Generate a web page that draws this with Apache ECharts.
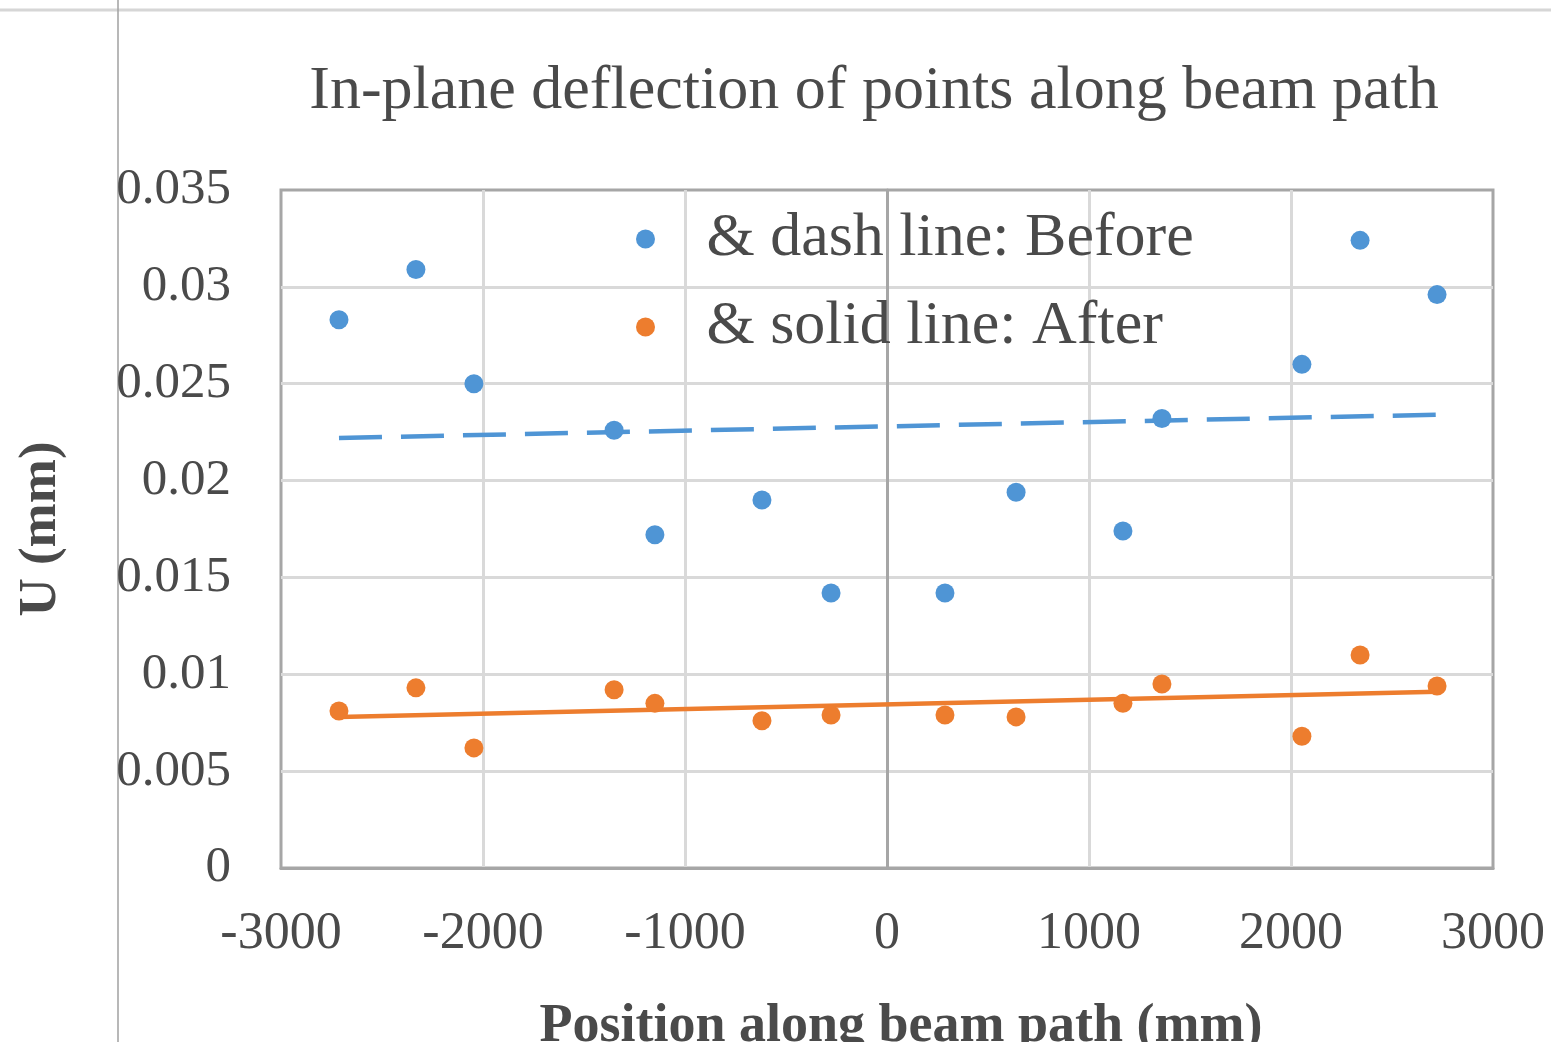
<!DOCTYPE html>
<html>
<head>
<meta charset="utf-8">
<title>In-plane deflection of points along beam path</title>
<script src="https://cdn.jsdelivr.net/npm/echarts@6/dist/echarts.min.js"></script>
<style>
  html, body { margin: 0; padding: 0; background: #fff; }
  #chart { width: 1551px; height: 1042px; }
</style>
</head>
<body>
<div id="chart"></div>
<script>
// positions along the beam (mm), shared by both measurement sets
const positions = [-2713, -2332, -2045, -1351, -1149, -619, -277, 287, 639, 1168, 1361, 2054, 2342, 2723]
const beforeU = [0.0283, 0.0309, 0.0250, 0.0226, 0.0172, 0.0190, 0.0142, 0.0142, 0.0194, 0.0174, 0.0232, 0.0260, 0.0324, 0.0296]
const afterU = [0.0081, 0.0093, 0.0062, 0.0092, 0.0085, 0.0076, 0.0079, 0.0079, 0.0078, 0.0085, 0.0095, 0.0068, 0.0110, 0.0094]

// trend line ends
const trendX = [-2713, 2723]
const beforeTrend = [0.0222, 0.0234]
const afterTrend = [0.0078, 0.0091]

const xTicks = { min: -3000, max: 3000, step: 1000 }
const yTicks = { min: 0, max: 0.035, step: 0.005 }

const BLUE = '#4f95d5'
const ORANGE = '#ed7d2e'
const TEXT = '#4a4a4a'
const FONT = '"Liberation Serif", "Times New Roman", serif'

const pairs = (xs, ys) => xs.map((x, i) => [x, ys[i]])

const chart = echarts.init(document.getElementById('chart'))

chart.setOption({
  animation: false,
  backgroundColor: '#fff',
  textStyle: { fontFamily: FONT },
  title: {
    text: 'In-plane deflection of points along beam path',
    left: 869,
    top: 56,
    textAlign: 'center',
    textStyle: { fontFamily: FONT, fontSize: 62, fontWeight: 'normal', color: TEXT }
  },
  legend: {
    data: ['& dash line: Before', '& solid line: After'],
    orient: 'vertical',
    left: 631,
    top: 198,
    itemWidth: 112,
    itemHeight: 19,
    itemGap: 16,
    icon: 'circle',
    selectedMode: false,
    textStyle: { fontFamily: FONT, fontSize: 62, color: TEXT, lineHeight: 72 }
  },
  grid: {
    left: 281, right: 58, top: 190, bottom: 174,
    outerBoundsMode: 'none',
    show: true, borderColor: '#a6a6a6', borderWidth: 3, backgroundColor: 'transparent'
  },
  xAxis: {
    type: 'value',
    min: xTicks.min, max: xTicks.max, interval: xTicks.step,
    name: 'Position along beam path (mm)',
    nameLocation: 'middle',
    nameGap: 132,
    nameTextStyle: { fontFamily: FONT, fontSize: 54, fontWeight: 'bold', color: TEXT, padding: [0, 0, 0, 28] },
    axisLine: { show: true, onZero: false, lineStyle: { color: '#a6a6a6', width: 3 } },
    axisTick: { show: false },
    axisLabel: { fontFamily: FONT, fontSize: 52, color: TEXT, margin: 40, formatter: v => String(v) },
    splitLine: { show: true, showMinLine: false, showMaxLine: false, lineStyle: { color: '#d9d9d9', width: 3 } }
  },
  yAxis: {
    type: 'value',
    min: yTicks.min, max: yTicks.max, interval: yTicks.step,
    name: 'U (mm)',
    nameLocation: 'middle',
    nameGap: 213,
    nameTextStyle: { fontFamily: FONT, fontSize: 53, fontWeight: 'bold', color: TEXT },
    axisLine: { show: true, lineStyle: { color: '#a6a6a6', width: 3 } },
    axisTick: { show: false },
    axisLabel: {
      fontFamily: FONT, fontSize: 51, color: TEXT, margin: 50,
      formatter: v => String(+v.toFixed(3))
    },
    splitLine: { show: true, showMinLine: false, showMaxLine: false, lineStyle: { color: '#d9d9d9', width: 3 } }
  },
  series: [
    {
      name: 'Before trend',
      type: 'line',
      data: pairs(trendX, beforeTrend),
      symbol: 'none',
      z: 3,
      lineStyle: { color: BLUE, width: 4.5, type: [43, 19] }
    },
    {
      name: 'After trend',
      type: 'line',
      data: pairs(trendX, afterTrend),
      symbol: 'none',
      z: 3,
      lineStyle: { color: ORANGE, width: 4.5 }
    },
    {
      name: '& dash line: Before',
      type: 'scatter',
      data: pairs(positions, beforeU),
      symbolSize: 19,
      z: 4,
      itemStyle: { color: BLUE, opacity: 1 }
    },
    {
      name: '& solid line: After',
      type: 'scatter',
      data: pairs(positions, afterU),
      symbolSize: 19,
      z: 4,
      itemStyle: { color: ORANGE, opacity: 1 }
    }
  ],
  // page edges left in the screenshot
  graphic: [
    { type: 'line', shape: { x1: 0, y1: 10, x2: 1551, y2: 10 }, style: { stroke: '#d6d6d6', lineWidth: 3 }, silent: true },
    { type: 'line', shape: { x1: 118, y1: 0, x2: 118, y2: 1042 }, style: { stroke: '#a0a0a0', lineWidth: 1.5 }, silent: true }
  ]
})
</script>
</body>
</html>
